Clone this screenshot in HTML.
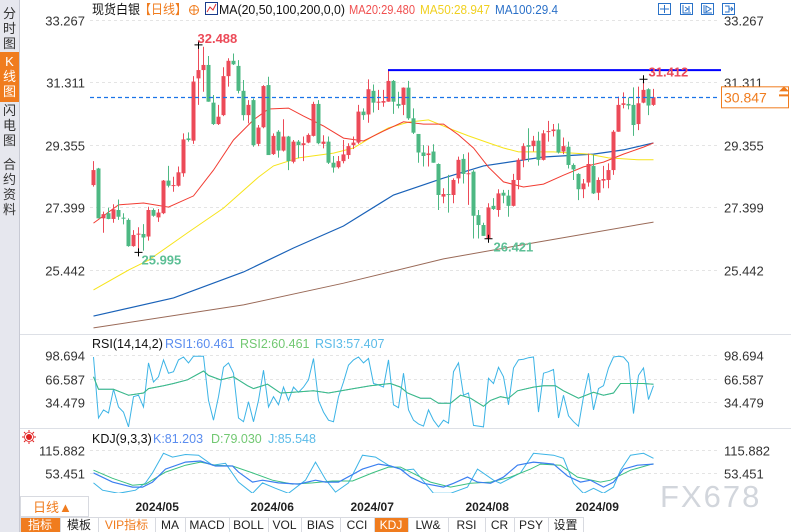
<!DOCTYPE html>
<html><head><meta charset="utf-8">
<style>
html,body{margin:0;padding:0;background:#fff;}
body{width:791px;height:532px;overflow:hidden;position:relative;font-family:"Liberation Sans","Noto Sans CJK SC",sans-serif;}
svg{position:absolute;left:0;top:0;}
svg text{font-family:"Liberation Sans","Noto Sans CJK SC",sans-serif;}
</style></head>
<body>
<svg id="chart" width="791" height="532" viewBox="0 0 791 532" xmlns="http://www.w3.org/2000/svg">
  <defs>
    <clipPath id="mainClip"><rect x="88" y="18" width="634" height="315"/></clipPath>
    <clipPath id="rsiClip"><rect x="88" y="348" width="634" height="80"/></clipPath>
    <clipPath id="kdjClip"><rect x="88" y="444" width="634" height="49"/></clipPath>
  </defs>
  <g>
    <rect x="0" y="0" width="19" height="532" fill="#e6e7ee"/>
    <line x1="19.5" y1="0" x2="19.5" y2="532" stroke="#c8cad4"/>
    <g font-size="13" fill="#333" text-anchor="middle">
      <text x="9.5" y="18">分</text><text x="9.5" y="33">时</text><text x="9.5" y="48">图</text>
    </g>
    <g>
      <rect x="0" y="52" width="19" height="50" fill="#f07c1e"/>
      <g font-size="13" fill="#fff" text-anchor="middle"><text x="9.5" y="66">K</text><text x="9.5" y="81">线</text><text x="9.5" y="96">图</text></g>
    </g>
    <g font-size="13" fill="#333" text-anchor="middle">
      <text x="9.5" y="115">闪</text><text x="9.5" y="130">电</text><text x="9.5" y="145">图</text>
    </g>
    <g font-size="13" fill="#333" text-anchor="middle">
      <text x="9.5" y="169">合</text><text x="9.5" y="184">约</text><text x="9.5" y="199">资</text><text x="9.5" y="214">料</text>
    </g>
  </g>
  <g id="layer"></g>
</svg>
<script>
const opens=[28.10,28.62,27.06,27.22,27.04,27.32,27.08,27.01,26.19,26.56,
26.57,26.49,27.32,27.09,27.22,28.24,28.07,28.08,28.47,29.56,
29.49,31.44,31.70,31.86,30.68,30.01,30.29,31.51,31.99,31.83,
31.05,30.29,30.76,29.39,29.91,31.23,29.07,29.77,29.18,29.62,
28.83,29.46,29.35,29.43,29.64,30.64,29.39,29.46,28.80,28.66,
28.85,29.04,29.35,29.43,30.40,30.31,31.05,30.68,30.68,30.71,
31.36,30.64,30.61,31.15,30.19,29.70,29.12,29.04,29.15,28.76,
27.74,27.82,27.79,28.31,28.92,28.45,28.52,27.16,26.85,26.43,
27.45,27.32,27.86,27.77,27.45,28.26,28.89,29.35,29.32,29.49,
28.89,29.77,29.79,29.84,29.15,29.30,28.73,28.45,27.97,28.18,
28.70,27.86,28.24,28.26,28.57,29.77,30.61,30.64,30.61,30.01,30.68,31.10,30.61];
const highs=[28.85,28.64,27.27,27.39,27.50,27.65,27.22,27.06,26.69,26.78,
26.88,27.42,27.37,27.35,28.26,28.70,28.36,28.68,29.72,29.75,
31.51,32.488,32.43,32.14,30.92,30.61,31.79,32.07,32.22,32.01,
31.39,30.76,30.81,29.98,31.23,31.49,29.72,29.82,30.16,29.64,
29.51,29.51,29.62,29.72,30.71,30.76,29.66,29.62,29.01,29.01,
29.51,29.41,29.62,30.61,30.50,31.41,31.25,31.08,31.08,31.70,
31.39,31.02,31.16,31.36,30.50,29.70,29.35,29.33,29.38,28.78,
28.00,28.42,28.31,28.99,29.07,29.12,28.57,27.32,26.92,27.53,
27.69,27.97,27.95,27.95,28.45,28.94,29.41,29.88,29.64,29.77,
29.82,30.11,30.01,30.03,29.59,29.46,28.78,28.47,28.29,29.09,
29.04,28.34,28.70,28.78,29.82,30.87,31.00,30.84,31.16,31.18,31.412,31.13,31.11];
const lows=[28.05,27.06,26.61,27.03,26.92,27.01,26.87,26.17,26.17,25.995,
26.05,26.36,27.11,26.95,27.19,28.03,27.89,28.05,28.36,29.46,
29.39,30.61,31.02,30.71,29.98,29.98,30.26,31.18,31.86,30.97,
30.12,30.03,29.30,29.32,29.88,29.04,29.04,28.96,29.15,28.57,
28.78,28.94,28.85,29.41,29.62,29.38,29.25,28.76,28.49,28.62,
28.78,28.92,29.23,29.39,30.14,30.05,30.37,30.45,30.55,30.71,
30.33,30.50,30.29,30.14,29.70,28.80,28.68,28.68,28.80,27.32,
27.53,27.24,27.53,28.15,28.15,27.48,26.43,26.43,26.51,26.421,
27.32,27.11,27.53,27.11,27.43,27.97,28.66,28.83,29.15,28.71,
28.87,29.46,29.62,29.09,29.07,28.62,28.26,27.63,27.69,28.05,
27.82,27.63,28.00,28.00,28.42,29.77,30.50,30.47,29.64,29.82,30.66,30.29,30.58];
const closes=[28.57,27.06,27.19,27.04,27.34,27.11,27.06,26.19,26.54,26.58,
26.46,27.32,27.14,27.24,28.24,28.08,28.10,28.50,29.53,29.51,
31.34,31.70,31.86,30.71,30.01,30.24,31.51,31.99,31.88,31.05,
30.29,30.61,29.35,29.90,31.20,29.04,29.64,29.18,29.62,28.85,
29.46,29.35,29.41,29.67,30.64,29.41,29.46,28.80,28.65,28.85,
29.06,29.32,29.43,30.40,30.29,31.10,30.68,30.71,30.73,31.36,
30.71,30.58,31.15,30.19,29.74,29.12,29.01,29.09,28.80,27.79,
27.82,27.79,28.26,28.89,28.45,28.47,27.14,26.85,26.51,27.40,
27.35,27.84,27.77,27.45,28.26,28.89,29.32,29.30,29.49,28.89,
29.72,29.79,29.84,29.12,29.32,28.73,28.59,27.97,28.15,28.76,
27.84,28.26,28.29,28.57,29.77,30.61,30.66,30.59,29.98,30.66,31.08,30.59,30.85];
const lastPrice=30.847;
const priceTicks=[33.267,31.311,29.355,27.399,25.442];
const dateLabels=["2024/05","2024/06","2024/07","2024/08","2024/09"];
const dateIdx=[8.6,31.6,51.6,74.6,96.6];
const ma20Idx=[0,5,10,15,20,24,28,32,35,39,42,46,50,54,58,62,66,70,73,76,79,82,86,90,94,98,102,106,110,112];
const ma20Val=[26.91,27.48,27.54,27.41,27.76,28.57,29.51,30.14,30.48,30.51,30.26,29.95,29.57,29.48,29.79,30.08,30.01,30.01,29.67,29.26,28.66,28.20,28.04,28.13,28.41,28.67,28.82,29.07,29.29,29.42];
const ma50Idx=[0,7,11,19,26,33,36,41,48,52,56,59,63,67,72,75,79,82,85,92,99,103,109,112];
const ma50Val=[24.82,25.44,25.75,26.63,27.38,28.35,28.70,28.95,29.10,29.26,29.64,29.89,30.07,30.14,29.82,29.64,29.42,29.26,29.14,29.14,29.07,28.95,28.89,28.89];
const ma100Idx=[0,16,30,40,50,60,70,78,90,100,106,112];
const ma100Val=[24.00,24.57,25.38,26.13,26.82,27.79,28.32,28.70,28.98,29.07,29.20,29.42];
const ma200Idx=[0,30,50,70,89,112];
const ma200Val=[23.63,24.35,25.03,25.79,26.32,26.94];
const rsiTicks=[98.694,66.587,34.479];
const rsi3Val=[96,13,24,20,52,28,21,1,42,44,28,88,62,69,92,74,76,92,96,88,
97,97,97,37,10,42,82,88,74,13,8,35,8,37,78,28,42,31,55,37,
55,48,55,65,94,37,21,10,8,42,62,85,92,96,88,94,60,58,55,92,
31,27,74,24,10,5,2,24,10,1,10,6,76,88,44,47,3,2,1,67,
60,82,69,31,81,92,93,95,96,21,74,76,79,13,44,16,8,2,42,74,
24,53,57,81,96,97,96,88,19,71,81,38,57];
const rsiSlowIdx=[0,1,4,7,10,11,14,16,18.8,22,23,25.4,28,30.8,32,34.8,37.4,40,44,47,52,55.4,59.4,61.4,62.8,65.4,67.4,69,71.4,73.4,75.4,78,79.4,81.4,83,84.8,88,90,92.4,94,97,100,102,104,105.4,107.4,110,112];
const rsiSlowVal=[69,52,52,44,47,53,57,60,65,77,71,65,69,57,53,59,47,48,50,47,53,57,60,55,47,40,40,33,33,44,40,29,37,42,40,50,55,57,57,50,40,48,44,47,60,60,60,59];
const kdjTicks=[115.882,53.451];
const kIdx=[0,3.8,7.8,9.8,11.8,14.4,18.4,21.4,24.4,27.8,29,31.8,33.8,37,41,44.4,46.4,49,53.8,57,59.4,61.4,63.4,66,70,72,74.8,76.8,79.4,82,84.8,88,92,94.8,97.4,99.4,102,104,106,108.8,112];
const kVal=[55,31,18,18,31,65,83,86,73,73,57,31,36,29,26,36,31,31,65,78,73,65,44,28,18,28,44,31,28,44,75,83,78,47,31,36,18,31,65,75,78];
const dIdx=[0,3.8,7.8,10.4,14.4,18.4,21.4,24.4,27.8,31.8,35.8,39.8,43.8,47.8,51.8,55.8,59,61.4,63.4,67.4,71.4,75.4,79.4,83.4,87.4,89.4,93.4,96.8,101.4,103.4,107.4,112];
const dVal=[62,41,23,26,57,75,83,75,73,55,36,26,29,34,34,55,70,70,57,31,18,28,31,44,65,78,75,44,31,36,62,79];
const jIdx=[0,1.8,5,8.4,10.4,11.8,14,15.8,18.4,21,23.8,26.4,29,31.8,33.8,36.4,39,42.4,44.4,46.4,48.4,51,53.8,56.4,59,62,64,68,71.4,74.8,76.8,80,81.4,85.4,88,92,94,96,98,100,102,104,105.4,107.4,110,112];
const jVal=[29,10,2,10,29,55,106,96,103,101,75,80,31,2,29,15,2,36,83,38,5,29,101,96,75,62,65,2,2,18,65,36,28,55,106,101,93,28,2,15,2,18,62,101,106,93,85];

const X0=93, DX=5;
function xOf(i){return X0+DX*i+0.5;}
function yP(p){return 20+(33.267-p)*31.95;}
function yR(v){return 355+(98.694-v)*0.7355;}
function yK(v){return 449.5+(115.882-v)*0.3844;}
const NS="http://www.w3.org/2000/svg";
const layer=document.getElementById('layer');
function mk(tag,parent){const e=document.createElementNS(NS,tag);(parent||layer).appendChild(e);return e;}
function txt(parent,x,y,s,size,fill,anchor){const t=mk('text',parent);t.setAttribute('x',x);t.setAttribute('y',y);t.setAttribute('font-size',size);t.setAttribute('fill',fill);if(anchor)t.setAttribute('text-anchor',anchor);t.textContent=s;return t;}
function fit(t,w){t.setAttribute('textLength',w);t.setAttribute('lengthAdjust','spacingAndGlyphs');return t;}
function polyline(parent,idx,vals,yf,color,w){const p=mk('polyline',parent);p.setAttribute('points',idx.map((ix,k)=>xOf(ix).toFixed(1)+','+yf(vals[k]).toFixed(1)).join(' '));p.setAttribute('fill','none');p.setAttribute('stroke',color);p.setAttribute('stroke-width',w||1);return p;}

const seps=mk('g');


[334.5,428.5].forEach(y=>{const l=mk('line',seps);l.setAttribute('x1',20);l.setAttribute('x2',791);l.setAttribute('y1',y);l.setAttribute('y2',y);l.setAttribute('stroke','#dde0e6');});

const grid=mk('g');


const yAxisL=mk('g');


const yAxisR=mk('g');


priceTicks.forEach(v=>{
  const y=Math.round(yP(v))+0.5;
  const l=mk('line',grid);l.setAttribute('x1',90);l.setAttribute('x2',720);l.setAttribute('y1',y);l.setAttribute('y2',y);l.setAttribute('stroke','#e4e4e4');l.setAttribute('stroke-dasharray','3,3');
  const a=txt(yAxisL,85,y+5,v.toFixed(3),13,'#333','end');
  
  const b=txt(yAxisR,724,y+5,v.toFixed(3),13,'#333');
  
});

const mainG=mk('g');
mainG.setAttribute('clip-path','url(#mainClip)');



const m200=polyline(mainG,ma200Idx,ma200Val,yP,'#9a6a58',1);


const m100=polyline(mainG,ma100Idx,ma100Val,yP,'#1a62b8',1.2);


const m50=polyline(mainG,ma50Idx,ma50Val,yP,'#f7e41a',1);


const m20=polyline(mainG,ma20Idx,ma20Val,yP,'#f23c32',1);



const candleG=mk('g',mainG);


for(let i=0;i<closes.length;i++){
  const up=closes[i]>=opens[i];
  const col=up?'#ec4a58':'#4db883';
  const g=mk('g',candleG);
  
  
  const x=xOf(i);
  const w=mk('line',g);w.setAttribute('x1',x);w.setAttribute('x2',x);w.setAttribute('y1',yP(highs[i]));w.setAttribute('y2',yP(lows[i]));w.setAttribute('stroke',col);w.setAttribute('stroke-width',1);
  const top=yP(Math.max(opens[i],closes[i])), bot=yP(Math.min(opens[i],closes[i]));
  const r=mk('rect',g);r.setAttribute('x',x-2);r.setAttribute('y',top);r.setAttribute('width',4);r.setAttribute('height',Math.max(1,bot-top));r.setAttribute('fill',col);
}

const lp=mk('line',mainG);


lp.setAttribute('x1',90);lp.setAttribute('x2',720);lp.setAttribute('y1',Math.round(yP(lastPrice))+0.5);lp.setAttribute('y2',Math.round(yP(lastPrice))+0.5);lp.setAttribute('stroke','#1a73e8');lp.setAttribute('stroke-width',1.3);lp.setAttribute('stroke-dasharray','4,3');

const hl=mk('line');


hl.setAttribute('x1',xOf(59)-0.5);hl.setAttribute('x2',721);hl.setAttribute('y1',yP(highs[59]));hl.setAttribute('y2',yP(highs[59]));hl.setAttribute('stroke','#0000ff');hl.setAttribute('stroke-width',2);

function extreme(from,to,isMax){let bi=from;for(let i=from;i<=to;i++){if(isMax?highs[i]>highs[bi]:lows[i]<lows[bi])bi=i;}return bi;}
function cross(parent,x,y){const a=mk('path',parent);a.setAttribute('d',`M${x-4},${y}H${x+4}M${x},${y-4}V${y+4}`);a.setAttribute('stroke','#000');a.setAttribute('stroke-width',1);}
const exG=mk('g');


const hi1=extreme(0,56,true), lo1=extreme(0,56,false), hi2=extreme(80,112,true), lo2=extreme(60,112,false);
cross(exG,xOf(hi1),yP(highs[hi1]));
const t1=txt(exG,xOf(hi1)-1,yP(highs[hi1])-2,highs[hi1].toFixed(3),13,'#ec4a58');

t1.setAttribute('font-weight','bold');
cross(exG,xOf(lo1),yP(lows[lo1]));
const t2=txt(exG,xOf(lo1)+3,yP(lows[lo1])+12,lows[lo1].toFixed(3),13,'#5cbf95');

t2.setAttribute('font-weight','bold');
cross(exG,xOf(hi2),yP(highs[hi2]));
const t3=txt(exG,xOf(hi2)+5,yP(highs[hi2])-3,highs[hi2].toFixed(3),13,'#ec4a58');

t3.setAttribute('font-weight','bold');
cross(exG,xOf(lo2),yP(lows[lo2]));
const t4=txt(exG,xOf(lo2)+5,yP(lows[lo2])+13,lows[lo2].toFixed(3),13,'#5cbf95');

t4.setAttribute('font-weight','bold');

const pb=mk('g');


const pbr=mk('rect',pb);pbr.setAttribute('x',721.5);pbr.setAttribute('y',yP(lastPrice)-10.5);pbr.setAttribute('width',67);pbr.setAttribute('height',21);pbr.setAttribute('fill','#fff');pbr.setAttribute('stroke','#f07c1e');
txt(pb,724,yP(lastPrice)+5,lastPrice.toFixed(3),14,'#f07c1e');
const arr=mk('path',pb);arr.setAttribute('d',`M779,${yP(lastPrice)-6}l5,-5l5,5zM779,${yP(lastPrice)-3}h10v2h-10z`);arr.setAttribute('fill','#f07c1e');

const hdr=mk('g');


fit(txt(hdr,92,14,'现货白银',13,'#111'),48);
fit(txt(hdr,139,14,'【日线】',13,'#f07c1e'),48);
const cz=mk('g',hdr);


const cc=mk('circle',cz);cc.setAttribute('cx',194);cc.setAttribute('cy',10);cc.setAttribute('r',4.5);cc.setAttribute('fill','none');cc.setAttribute('stroke','#f07c1e');
const cl=mk('path',cz);cl.setAttribute('d','M189,10H199M194,5V15');cl.setAttribute('stroke','#f07c1e');
const ic=mk('g',hdr);


const icr=mk('rect',ic);icr.setAttribute('x',205.5);icr.setAttribute('y',2.5);icr.setAttribute('width',12);icr.setAttribute('height',12);icr.setAttribute('fill','#fff');icr.setAttribute('stroke','#1a3b8c');
const icp=mk('path',ic);icp.setAttribute('d','M207,12L210,7L213,10L216,4');icp.setAttribute('stroke','#e03030');icp.setAttribute('fill','none');
fit(txt(hdr,219,14,'MA(20,50,100,200,0,0)',13,'#111'),126);
fit(txt(hdr,349,14,'MA20:29.480',12.5,'#f05050'),66);
fit(txt(hdr,420,14,'MA50:28.947',12.5,'#f0d020'),70);
fit(txt(hdr,495,14,'MA100:29.4',12.5,'#2a70c8'),63);

const tb=mk('g');


[[658,'zoom-reset-button'],[680,'fit-left-button'],[701,'fit-right-button'],[722,'scroll-latest-button']].forEach(([x,n],k)=>{
  const g=mk('g',tb);
  
  
  const r=mk('rect',g);r.setAttribute('x',x+0.5);r.setAttribute('y',3.5);r.setAttribute('width',12);r.setAttribute('height',11);r.setAttribute('fill','#fff');r.setAttribute('stroke','#2a72c8');
  const p=mk('path',g);
  const ds=[`M${x+6.5},5V13M${x+2},9H${x+11}`,`M${x+3},5V13H${x+11}M${x+9},6V12M${x+5},7L${x+8},9L${x+5},11`,`M${x+3},5V13H${x+11}M${x+5},6L${x+10},9L${x+5},12z`,`M${x+3},6H${x+7}V12H${x+3}M${x+7},9H${x+11}M${x+9},7L${x+11},9L${x+9},11`];
  p.setAttribute('d',ds[k]);p.setAttribute('stroke','#2a72c8');p.setAttribute('fill','none');
});

const rsiG=mk('g');


txt(rsiG,92,348,'RSI(14,14,2)',12.5,'#111');
txt(rsiG,165,348,'RSI1:60.461',12.5,'#5b8def');
txt(rsiG,240,348,'RSI2:60.461',12.5,'#72c872');
txt(rsiG,315,348,'RSI3:57.407',12.5,'#5bbbe8');
rsiTicks.forEach(v=>{
  const y=Math.round(yR(v))+0.5;
  const l=mk('line',rsiG);l.setAttribute('x1',90);l.setAttribute('x2',720);l.setAttribute('y1',y);l.setAttribute('y2',y);l.setAttribute('stroke','#e4e4e4');l.setAttribute('stroke-dasharray','3,3');
  const a=txt(rsiG,85,y+5,v.toFixed(3),13,'#333','end');
  
  const b=txt(rsiG,724,y+5,v.toFixed(3),13,'#333');
  
});
const rsiPlot=mk('g',rsiG);
rsiPlot.setAttribute('clip-path','url(#rsiClip)');
const rsiIdxAll=rsi3Val.map((v,i)=>i);
const r3=polyline(rsiPlot,rsiIdxAll,rsi3Val,yR,'#3cb4e6',1);


const r1=polyline(rsiPlot,rsiSlowIdx,rsiSlowVal,yR,'#5b8def',1);


const r2=polyline(rsiPlot,rsiSlowIdx,rsiSlowVal,yR,'#3cc080',1);



const kdjG=mk('g');


const sun=mk('g',kdjG);


const sc=mk('circle',sun);sc.setAttribute('cx',29);sc.setAttribute('cy',437);sc.setAttribute('r',3);sc.setAttribute('fill','#e02020');
const sr=mk('path',sun);sr.setAttribute('d','M29,430V432M29,442V444M22,437H24M34,437H36M24,432L25.5,433.5M32.5,440.5L34,442M34,432L32.5,433.5M25.5,440.5L24,442');sr.setAttribute('stroke','#e02020');
const sc2=mk('circle',sun);sc2.setAttribute('cx',29);sc2.setAttribute('cy',437);sc2.setAttribute('r',4.5);sc2.setAttribute('fill','none');sc2.setAttribute('stroke','#e02020');sc2.setAttribute('stroke-width',0.8);
txt(kdjG,92,443,'KDJ(9,3,3)',12.5,'#111');
txt(kdjG,153,443,'K:81.203',12.5,'#5b8def');
txt(kdjG,211,443,'D:79.030',12.5,'#72c872');
txt(kdjG,268,443,'J:85.548',12.5,'#5bbbe8');
kdjTicks.forEach(v=>{
  const y=Math.round(yK(v))+0.5;
  const l=mk('line',kdjG);l.setAttribute('x1',90);l.setAttribute('x2',720);l.setAttribute('y1',y);l.setAttribute('y2',y);l.setAttribute('stroke','#e4e4e4');l.setAttribute('stroke-dasharray','3,3');
  const a=txt(kdjG,85,y+5,v.toFixed(3),13,'#333','end');
  
  const b=txt(kdjG,724,y+5,v.toFixed(3),13,'#333');
  
});
const kdjPlot=mk('g',kdjG);
kdjPlot.setAttribute('clip-path','url(#kdjClip)');
const jl=polyline(kdjPlot,jIdx,jVal,yK,'#3cb4e6',1);


const dl=polyline(kdjPlot,dIdx,dVal,yK,'#3cc080',1);


const kl=polyline(kdjPlot,kIdx,kVal,yK,'#3b7ff0',1.2);



const wm=txt(layer,660,507,'FX678',31,'#c8ccd4');


wm.setAttribute('letter-spacing','2');
wm.setAttribute('opacity','0.8');

const xa=mk('g');


dateLabels.forEach((s,k)=>{
  const t=txt(xa,xOf(dateIdx[k])-1,511,s,12,'#222');
  
  t.setAttribute('font-weight','bold');
});
const per=mk('g');


const pr=mk('rect',per);pr.setAttribute('x',20.5);pr.setAttribute('y',496.5);pr.setAttribute('width',68);pr.setAttribute('height',20);pr.setAttribute('fill','#fff');pr.setAttribute('stroke','#d8dae0');
txt(per,33,512,'日线▲',13,'#f07c1e');

const bar=mk('g');


const bl=mk('line',bar);bl.setAttribute('x1',20);bl.setAttribute('x2',583);bl.setAttribute('y1',517.5);bl.setAttribute('y2',517.5);bl.setAttribute('stroke','#d8dae0');
const btnLabels=['指标','模板','VIP指标','MA','MACD','BOLL','VOL','BIAS','CCI','KDJ','LW&','RSI','CR','PSY','设置'];
const btnEdges=[20,60,98,155,185,229,268,301,340,374,408,448,485,514,548,583];
const btnNames=['indicator-tab','template-tab','vip-indicator-tab','ma-button','macd-button','boll-button','vol-button','bias-button','cci-button','kdj-button','lwr-button','rsi-button','cr-button','psy-button','settings-button'];
btnLabels.forEach((s,k)=>{
  const g=mk('g',bar);
  
  
  const active=(k===0||k===9);
  const r=mk('rect',g);r.setAttribute('x',btnEdges[k]+0.5);r.setAttribute('y',517.5);r.setAttribute('width',btnEdges[k+1]-btnEdges[k]);r.setAttribute('height',15);r.setAttribute('fill',active?'#f07c1e':'#fff');r.setAttribute('stroke','#d8dae0');
  const t=txt(g,(btnEdges[k]+btnEdges[k+1])/2,529,s,12,active?'#fff':(k===2?'#f07c1e':'#222'),'middle');
  t.setAttribute('font-family','"Liberation Serif","Noto Serif CJK SC",serif');
});
</script>
</body></html>
